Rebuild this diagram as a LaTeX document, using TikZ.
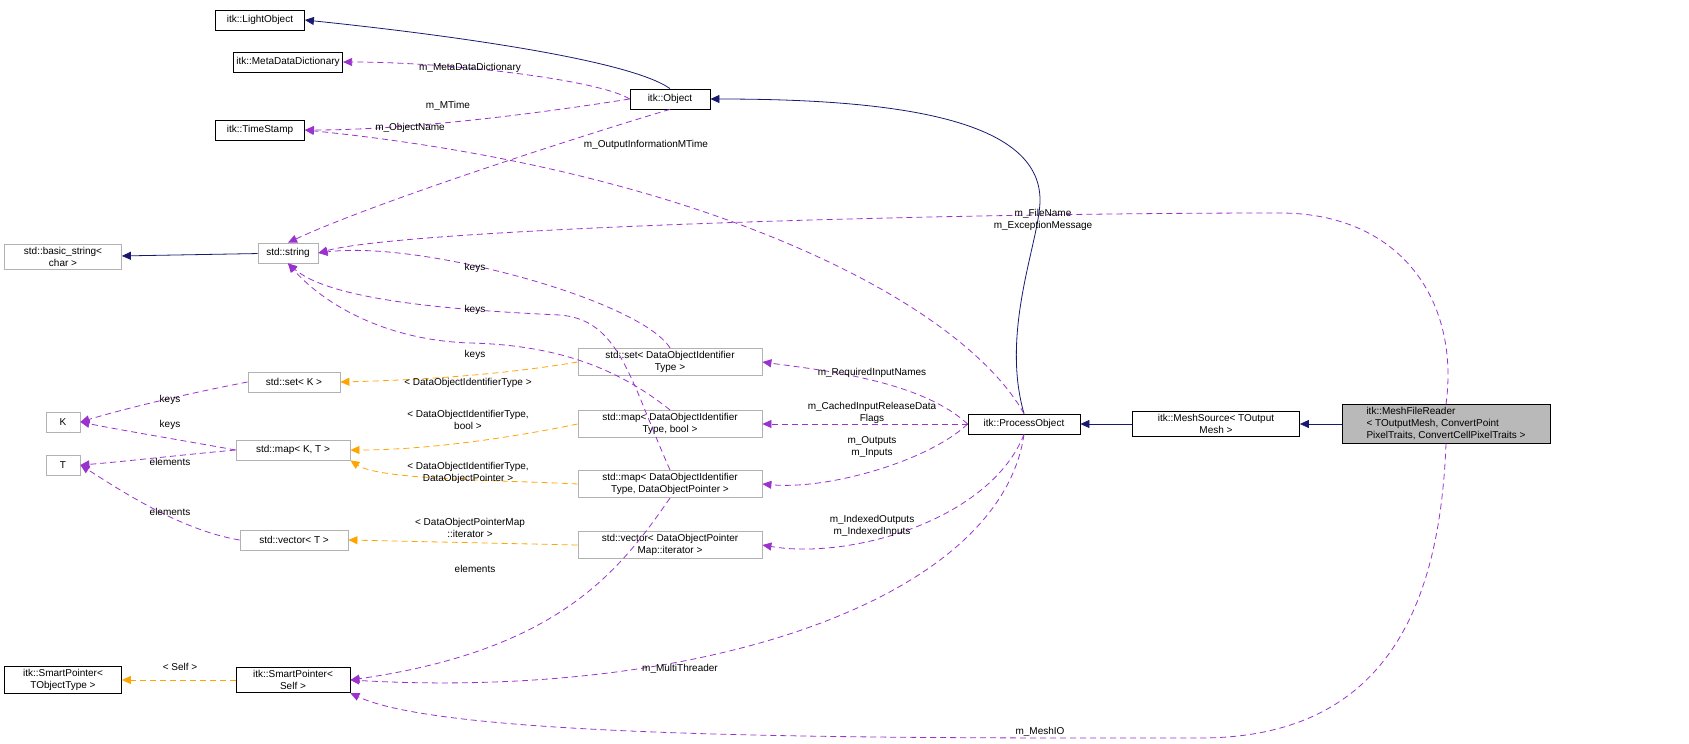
\documentclass[tikz,border=0pt]{standalone}
\usepackage{fontspec}
\setmainfont{Liberation Sans}
\usetikzlibrary{arrows.meta}
\definecolor{navy}{HTML}{191970}
\definecolor{orchid}{HTML}{9A32CD}
\definecolor{amber}{HTML}{FFA500}
\tikzset{
  cls/.style={draw=black, line width=0.8pt, fill=white, inner sep=3pt, minimum height=20pt, align=center, font=\fontsize{10}{12}\selectfont},
  ext/.style={cls, draw=gray!60},
  cur/.style={cls, fill=gray!55},
  inh/.style={navy, line width=0.8pt, -{Triangle[length=9pt,width=8pt]}},
  use/.style={orchid, line width=0.8pt, dash pattern=on 6pt off 4pt, -{Triangle[length=9pt,width=8pt]}},
  tpl/.style={amber, line width=0.8pt, dash pattern=on 6pt off 4pt, -{Triangle[length=9pt,width=8pt]}},
  lbl/.style={font=\fontsize{10}{12}\selectfont, align=center, inner sep=1pt}
}
\begin{document}
\begin{tikzpicture}[x=1pt,y=-1pt]
\useasboundingbox (0,0) rectangle (1689,744);
% classes
\node[cls, minimum width=89pt] (light) at (260,20) {itk::LightObject};
\node[cls] (meta) at (288,62) {itk::MetaDataDictionary};
\node[cls, minimum width=89pt] (stamp) at (260,130) {itk::TimeStamp};
\node[cls, minimum width=80pt] (object) at (670,99) {itk::Object};
\node[ext, minimum width=117pt] (basic) at (63,257) {std::basic\_string<\\char >};
\node[ext, minimum width=60pt] (string) at (288,253) {std::string};
\node[ext, minimum width=34pt] (keyk) at (63,422) {K};
\node[ext, minimum width=34pt] (valt) at (63,465) {T};
\node[ext, minimum width=92pt] (setk) at (294,382) {std::set< K >};
\node[ext, minimum width=114pt] (mapkt) at (293,450) {std::map< K, T >};
\node[ext, minimum width=108pt] (vect) at (294,540) {std::vector< T >};
\node[cls, minimum width=117pt] (spobj) at (63,680) {itk::SmartPointer<\\TObjectType >};
\node[cls, minimum width=114pt] (spself) at (293,680) {itk::SmartPointer<\\Self >};
\node[ext, minimum width=184pt] (setid) at (670,362) {std::set< DataObjectIdentifier\\Type >};
\node[ext, minimum width=184pt] (mapbool) at (670,424) {std::map< DataObjectIdentifier\\Type, bool >};
\node[ext, minimum width=184pt] (mapptr) at (670,484) {std::map< DataObjectIdentifier\\Type, DataObjectPointer >};
\node[ext, minimum width=184pt] (vecit) at (670,545) {std::vector< DataObjectPointer\\Map::iterator >};
\node[cls, minimum width=112pt] (process) at (1024,424) {itk::ProcessObject};
\node[cls, minimum width=167pt] (source) at (1216,424) {itk::MeshSource< TOutput\\Mesh >};
\node[cur, minimum width=208pt, align=left] (reader) at (1446,424) {itk::MeshFileReader\\< TOutputMesh, ConvertPoint\\PixelTraits, ConvertCellPixelTraits >};
% inheritance
\draw[inh] (object.north) .. controls (630,60) and (450,35) .. (light.east);
\draw[inh] (process.north) .. controls (1000,330) and (1040,240) .. (1040,200) .. controls (1040,120) and (900,99) .. (object.east);
\draw[inh] (string) -- (basic);
\draw[inh] (source) -- (process);
\draw[inh] (reader) -- (source);
% members
\draw[use] (object.west) .. controls (600,80) and (450,62) .. (meta.east);
\draw[use] (object.west) .. controls (560,110) and (420,130) .. (stamp.east);
\draw[use] (object.south) .. controls (600,130) and (380,200) .. (string.north);
\draw[use] (process.north) .. controls (960,300) and (700,170) .. (stamp.east);
\draw[use] (reader.north) .. controls (1460,300) and (1400,213) .. (1280,213) .. controls (900,213) and (400,230) .. (string.east);
\draw[use] (setid.north) .. controls (640,300) and (420,240) .. (string.east);
\draw[use] (mapptr.north) .. controls (630,380) and (620,320) .. (560,315) .. controls (450,310) and (330,300) .. (string.south);
\draw[use] (mapbool.north) .. controls (620,370) and (560,345) .. (470,343) .. controls (380,340) and (320,300) .. (string.south);
\draw[tpl] (setid.west) .. controls (500,375) and (420,380) .. (setk.east);
\draw[tpl] (mapbool.west) .. controls (500,440) and (420,450) .. (mapkt.east);
\draw[tpl] (mapptr.west) .. controls (500,480) and (380,480) .. (mapkt.south east);
\draw[tpl] (vecit.west) -- (vect.east);
\draw[use] (setk.west) .. controls (180,395) and (120,410) .. (keyk.east);
\draw[use] (mapkt.west) .. controls (180,440) and (120,430) .. (keyk.east);
\draw[use] (mapkt.west) .. controls (180,455) and (120,462) .. (valt.east);
\draw[use] (vect.west) .. controls (180,530) and (120,490) .. (valt.east);
\draw[use] (process.west) .. controls (920,380) and (820,370) .. (setid.east);
\draw[use] (process.west) -- (mapbool.east);
\draw[use] (process.west) .. controls (930,460) and (830,490) .. (mapptr.east);
\draw[use] (process.south) .. controls (990,520) and (850,560) .. (vecit.east);
\draw[use] (mapptr.south) .. controls (620,570) and (560,650) .. (spself.east);
\draw[use] (process.south) .. controls (1000,600) and (700,700) .. (spself.east);
\draw[use] (reader.south) .. controls (1440,600) and (1390,738) .. (1200,738) .. controls (900,738) and (450,740) .. (spself.south east);
\draw[tpl] (spself.west) -- (spobj.east);
% labels
\node[lbl] (lmeta) at (470,68) {m\_MetaDataDictionary};
\node[lbl] (lmtime) at (448,106) {m\_MTime};
\node[lbl] (lname) at (410,128) {m\_ObjectName};
\node[lbl] (loutinfo) at (646,145) {m\_OutputInformationMTime};
\node[lbl] (lfile) at (1043,220) {m\_FileName\\m\_ExceptionMessage};
\node[lbl] (lkeys1) at (475,268) {keys};
\node[lbl] (lkeys2) at (475,310) {keys};
\node[lbl] (lkeys3) at (475,355) {keys};
\node[lbl] (lsetid) at (468,383) {< DataObjectIdentifierType >};
\node[lbl] (lmapbool) at (468,420) {< DataObjectIdentifierType,\\bool >};
\node[lbl] (lmapptr) at (468,473) {< DataObjectIdentifierType,\\DataObjectPointer >};
\node[lbl] (lvecit) at (470,528) {< DataObjectPointerMap\\::iterator >};
\node[lbl] (lkk1) at (170,400) {keys};
\node[lbl] (lkk2) at (170,425) {keys};
\node[lbl] (lel1) at (170,462) {elements};
\node[lbl] (lel2) at (170,512) {elements};
\node[lbl] (lreq) at (872,373) {m\_RequiredInputNames};
\node[lbl] (lcache) at (872,413) {m\_CachedInputReleaseData\\Flags};
\node[lbl] (lout) at (872,447) {m\_Outputs\\m\_Inputs};
\node[lbl] (lidx) at (872,526) {m\_IndexedOutputs\\m\_IndexedInputs};
\node[lbl] (lel3) at (475,569) {elements};
\node[lbl] (lthread) at (680,669) {m\_MultiThreader};
\node[lbl] (lmeshio) at (1040,732) {m\_MeshIO};
\node[lbl] (lself) at (180,667) {< Self >};
\end{tikzpicture}
\end{document}
